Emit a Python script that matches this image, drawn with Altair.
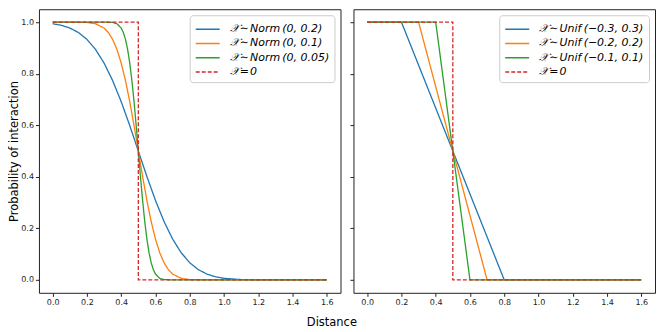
import altair as alt
import pandas as pd

# ---- data ----
# Left panel: normal-noise interaction probability
dist_norm_02 = [0.0, 0.05, 0.1, 0.15, 0.2, 0.25, 0.3, 0.35, 0.4, 0.45, 0.5, 0.55, 0.6, 0.65, 0.7, 0.75, 0.8, 0.85, 0.9, 0.95, 1.0, 1.1, 1.2, 1.6]
prob_norm_02 = [0.9938, 0.9878, 0.9772, 0.9599, 0.9332, 0.8944, 0.8413, 0.7734, 0.6915, 0.5987, 0.5, 0.4013, 0.3085, 0.2266, 0.1587, 0.1056, 0.0668, 0.0401, 0.0228, 0.0122, 0.0062, 0.0013, 0.0002, 0.0]

dist_norm_01 = [0.0, 0.1, 0.2, 0.25, 0.3, 0.325, 0.35, 0.375, 0.4, 0.425, 0.45, 0.475, 0.5, 0.525, 0.55, 0.575, 0.6, 0.625, 0.65, 0.675, 0.7, 0.75, 0.8, 0.9, 1.6]
prob_norm_01 = [1.0, 1.0, 0.9987, 0.9938, 0.9772, 0.9599, 0.9332, 0.8944, 0.8413, 0.7734, 0.6915, 0.5987, 0.5, 0.4013, 0.3085, 0.2266, 0.1587, 0.1056, 0.0668, 0.0401, 0.0228, 0.0062, 0.0013, 0.0, 0.0]

dist_norm_005 = [0.0, 0.3, 0.35, 0.375, 0.4, 0.4125, 0.425, 0.4375, 0.45, 0.4625, 0.475, 0.4875, 0.5, 0.5125, 0.525, 0.5375, 0.55, 0.5625, 0.575, 0.5875, 0.6, 0.625, 0.65, 0.7, 1.6]
prob_norm_005 = [1.0, 1.0, 0.9987, 0.9938, 0.9772, 0.9599, 0.9332, 0.8944, 0.8413, 0.7734, 0.6915, 0.5987, 0.5, 0.4013, 0.3085, 0.2266, 0.1587, 0.1056, 0.0668, 0.0401, 0.0228, 0.0062, 0.0013, 0.0, 0.0]

# Step (no noise)
dist_step = [0.0, 0.5, 0.5, 1.6]
prob_step = [1.0, 1.0, 0.0, 0.0]

# Right panel: uniform-noise interaction probability
dist_unif_03 = [0.0, 0.2, 0.8, 1.6]
prob_unif_03 = [1.0, 1.0, 0.0, 0.0]
dist_unif_02 = [0.0, 0.3, 0.7, 1.6]
prob_unif_02 = [1.0, 1.0, 0.0, 0.0]
dist_unif_01 = [0.0, 0.4, 0.6, 1.6]
prob_unif_01 = [1.0, 1.0, 0.0, 0.0]

labels_norm = ["𝒳\u200a∼\u200aNorm\u2009(0, 0.2)", "𝒳\u200a∼\u200aNorm\u2009(0, 0.1)",
               "𝒳\u200a∼\u200aNorm\u2009(0, 0.05)", "𝒳\u200a=\u200a0"]
labels_unif = ["𝒳\u200a∼\u200aUnif\u2009(−0.3, 0.3)", "𝒳\u200a∼\u200aUnif\u2009(−0.2, 0.2)",
               "𝒳\u200a∼\u200aUnif\u2009(−0.1, 0.1)", "𝒳\u200a=\u200a0"]

x_ticks = [0.0, 0.2, 0.4, 0.6, 0.8, 1.0, 1.2, 1.4, 1.6]
y_ticks = [0.0, 0.2, 0.4, 0.6, 0.8, 1.0]

colors = ["#1f77b4", "#ff7f0e", "#2ca02c", "#d62728"]
dashes = [[1, 0], [1, 0], [1, 0], [4, 2]]

FONT = "DejaVu Sans"


def make_df(pairs, labels):
    rows = []
    for (xs, ys), lab in zip(pairs, labels):
        for i, (x, y) in enumerate(zip(xs, ys)):
            rows.append({"series": lab, "d": x, "p": y, "idx": i})
    return pd.DataFrame(rows)


def panel(curve_pairs, labels, show_y_labels):
    df_curves = make_df(curve_pairs, labels[:3])
    df_step = make_df([(dist_step, prob_step)], labels[3:])

    legend = alt.Legend(
        title=None, orient="top-right", offset=6, padding=5,
        fillColor="white", strokeColor="#cccccc", cornerRadius=3,
        labelFont=FONT, labelFontSize=11, labelFontStyle="italic",
        labelColor="black", labelLimit=400,
        symbolType="M-1,0L2,0", symbolSize=256, symbolStrokeWidth=1.5,
        labelOffset=17, rowPadding=0.3,
    )
    color = alt.Color("series:N", scale=alt.Scale(domain=labels, range=colors), legend=legend)
    dash = alt.StrokeDash("series:N", scale=alt.Scale(domain=labels, range=dashes), legend=legend)
    x = alt.X("d:Q", scale=alt.Scale(domain=[-0.08, 1.68], nice=False, zero=False),
              axis=alt.Axis(values=x_ticks, format=".1f", title=None))
    y = alt.Y("p:Q", scale=alt.Scale(domain=[-0.05, 1.05], nice=False, zero=False),
              axis=alt.Axis(values=y_ticks, format=".1f",
                            title="Probability of interaction" if show_y_labels else None,
                            labels=show_y_labels))

    curves = alt.Chart(df_curves).mark_line(strokeWidth=1.3).encode(
        x=x, y=y, color=color, strokeDash=dash, order="idx:Q")
    step = alt.Chart(df_step).mark_line(strokeWidth=1.3).encode(
        x=x, y=y, color=color, strokeDash=dash, order="idx:Q")
    return alt.layer(curves, step).properties(width=302, height=284)


left = panel([(dist_norm_02, prob_norm_02), (dist_norm_01, prob_norm_01), (dist_norm_005, prob_norm_005)],
             labels_norm, True)
right = panel([(dist_unif_03, prob_unif_03), (dist_unif_02, prob_unif_02), (dist_unif_01, prob_unif_01)],
              labels_unif, False)

chart = alt.hconcat(left, right, spacing=7).resolve_scale(
    color="independent", strokeDash="independent"
).properties(
    padding=0,
    title=alt.TitleParams("Distance", orient="bottom", anchor="middle", font=FONT,
                          fontSize=11.5, fontWeight="normal", color="black", offset=10),
).configure_view(
    stroke="#222222", strokeWidth=1
).configure_axis(
    grid=False, domain=False, labelFont=FONT, labelFontSize=8, labelColor="#222222",
    tickColor="#222222", tickSize=3.5, labelPadding=2,
    titleFont=FONT, titleFontSize=11.5, titleFontWeight="normal", titleColor="black",
    titlePadding=1,
)

chart.save("out.html", embed_options={"renderer": "svg", "actions": False})
